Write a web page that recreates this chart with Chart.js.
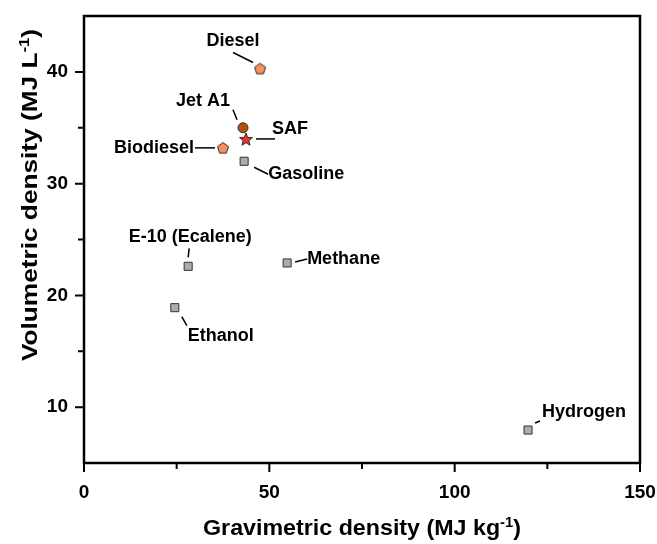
<!DOCTYPE html>
<html>
<head>
<meta charset="utf-8">
<script src="https://cdn.jsdelivr.net/npm/chart.js@4.4.1/dist/chart.umd.min.js"></script>
<style>
  html, body { margin: 0; padding: 0; background: #fff; }
  #wrap { width: 657px; height: 544px; }
</style>
</head>
<body>
<div id="wrap"><canvas id="chart" width="657" height="544"></canvas></div>
<script>
// data
const fuels = ['Diesel', 'Jet A1', 'SAF', 'Biodiesel', 'Gasoline', 'E-10 (Ecalene)', 'Methane', 'Ethanol', 'Hydrogen'];
const gravimetric = [47.5, 42.9, 43.7, 37.5, 43.2, 28.1, 54.8, 24.5, 119.8];
const volumetric = [40.3, 35.0, 34.0, 33.2, 32.0, 22.6, 22.9, 18.9, 7.95];
const markerKind = ['pentagon', 'circle', 'star', 'pentagon', 'square', 'square', 'square', 'square', 'square'];
const xTicks = [0, 50, 100, 150];
const yTicks = [10, 20, 30, 40];
const xMinor = [25, 75, 125];
const yMinor = [15, 25, 35];

// label placement: text offset, alignment, leader line (pixels relative to point)
const labelPos = [
  { tx: -27, ty: -27, align: 'center', l: [-27, -16, -7, -6] },
  { tx: -40, ty: -27, align: 'center', l: [-10, -18, -6, -8] },
  { tx: 44, ty: -10, align: 'center', l: [10, 0, 29, 0] },
  { tx: -29, ty: 0, align: 'right', l: [-28, 0, -8, 0] },
  { tx: 24, ty: 13, align: 'left', l: [10, 6, 24, 13] },
  { tx: 2, ty: -29, align: 'center', l: [1, -18, 0, -9] },
  { tx: 20, ty: -4, align: 'left', l: [8, -1, 20, -4] },
  { tx: 13, ty: 28, align: 'left', l: [7, 9, 12, 18] },
  { tx: 14, ty: -18, align: 'left', l: [7, -7, 12, -9] }
];

const FONT = '"Liberation Sans", Arial, sans-serif';
const markerColors = {
  pentagon: '#f5915c',
  circle: '#b4500e',
  star: '#e8313a',
  square: '#acacac'
};

function makeMarker(kind) {
  const size = 16;
  const c = document.createElement('canvas');
  c.width = size; c.height = size;
  const g = c.getContext('2d');
  const cx = size / 2, cy = size / 2;
  g.beginPath();
  if (kind === 'pentagon') {
    const r = 5.8;
    for (let k = 0; k < 5; k++) {
      const a = -Math.PI / 2 + k * 2 * Math.PI / 5;
      g.lineTo(cx + r * Math.cos(a), cy + 0.5 + r * Math.sin(a));
    }
  } else {
    const ro = 6.8, ri = 2.9;
    for (let k = 0; k < 10; k++) {
      const r = k % 2 ? ri : ro;
      const a = -Math.PI / 2 + k * Math.PI / 5;
      g.lineTo(cx + r * Math.cos(a), cy + 0.8 + r * Math.sin(a));
    }
  }
  g.closePath();
  g.fillStyle = markerColors[kind];
  g.fill();
  g.lineWidth = 1;
  g.strokeStyle = '#3a2a20';
  g.stroke();
  return c;
}

const pointStyles = markerKind.map(k => {
  if (k === 'square') return 'rect';
  if (k === 'circle') return 'circle';
  return makeMarker(k);
});

const pointLabels = {
  id: 'pointLabels',
  afterDatasetsDraw(chart) {
    const { ctx, scales: { x, y } } = chart;
    ctx.save();
    ctx.strokeStyle = '#000';
    ctx.lineWidth = 1.5;
    ctx.fillStyle = '#000';
    ctx.font = 'bold 18px ' + FONT;
    ctx.textBaseline = 'middle';
    fuels.forEach((name, i) => {
      const px = x.getPixelForValue(gravimetric[i]);
      const py = y.getPixelForValue(volumetric[i]);
      const p = labelPos[i];
      ctx.beginPath();
      ctx.moveTo(px + p.l[0], py + p.l[1]);
      ctx.lineTo(px + p.l[2], py + p.l[3]);
      ctx.stroke();
      ctx.textAlign = p.align;
      ctx.fillText(name, px + p.tx, py + p.ty);
    });
    ctx.restore();
  }
};

// axis title with a superscript, stretched to the given length
function drawTitle(ctx, parts, cx, cy, rot, len) {
  ctx.save();
  ctx.translate(cx, cy);
  ctx.rotate(rot);
  const big = 'bold 22px ' + FONT, small = 'bold 14px ' + FONT;
  let w = 0;
  parts.forEach(p => { ctx.font = p.sup ? small : big; w += ctx.measureText(p.t).width; });
  ctx.scale(len / w, 1);
  let xPos = -w / 2;
  ctx.textBaseline = 'alphabetic';
  ctx.textAlign = 'left';
  ctx.fillStyle = '#000';
  parts.forEach(p => {
    ctx.font = p.sup ? small : big;
    ctx.fillText(p.t, xPos, p.sup ? -8 : 0);
    xPos += ctx.measureText(p.t).width;
  });
  ctx.restore();
}

const frameAndTicks = {
  id: 'frameAndTicks',
  afterDraw(chart) {
    const { ctx, chartArea: a, scales: { x, y } } = chart;
    ctx.save();
    ctx.strokeStyle = '#000';
    ctx.lineWidth = 2;
    ctx.beginPath();
    xTicks.forEach(v => { const p = x.getPixelForValue(v); ctx.moveTo(p, a.bottom); ctx.lineTo(p, a.bottom + 9); });
    xMinor.forEach(v => { const p = x.getPixelForValue(v); ctx.moveTo(p, a.bottom); ctx.lineTo(p, a.bottom + 6); });
    yTicks.forEach(v => { const p = y.getPixelForValue(v); ctx.moveTo(a.left, p); ctx.lineTo(a.left - 9, p); });
    yMinor.forEach(v => { const p = y.getPixelForValue(v); ctx.moveTo(a.left, p); ctx.lineTo(a.left - 6, p); });
    ctx.stroke();
    ctx.lineWidth = 2.5;
    ctx.strokeRect(a.left, a.top, a.right - a.left, a.bottom - a.top);
    ctx.restore();

    drawTitle(ctx, [{ t: 'Gravimetric density (MJ kg' }, { t: '-1', sup: true }, { t: ')' }],
      (a.left + a.right) / 2, 535, 0, 318);
    drawTitle(ctx, [{ t: 'Volumetric density (MJ L' }, { t: '-1', sup: true }, { t: ')' }],
      37, 195, -Math.PI / 2, 332);
  }
};

const tickFont = { family: FONT, size: 19, weight: 'bold' };

new Chart(document.getElementById('chart'), {
  type: 'scatter',
  data: {
    datasets: [{
      label: 'Fuels',
      data: fuels.map((f, i) => ({ x: gravimetric[i], y: volumetric[i] })),
      pointStyle: pointStyles,
      pointRadius: markerKind.map(k => k === 'square' ? 5.7 : 5),
      pointBackgroundColor: markerKind.map(k => markerColors[k]),
      pointBorderColor: '#333',
      pointBorderWidth: 1
    }]
  },
  options: {
    responsive: false,
    animation: false,
    layout: { padding: { top: 16, right: 17, left: 0, bottom: 0 } },
    plugins: { legend: { display: false }, tooltip: { enabled: false } },
    scales: {
      x: {
        type: 'linear',
        min: 0,
        max: 150,
        afterBuildTicks: s => { s.ticks = xTicks.map(v => ({ value: v })); },
        afterFit: s => { s.height = 81; s.paddingLeft = 0; s.paddingRight = 0; },
        grid: { display: false },
        border: { display: false },
        ticks: { font: tickFont, color: '#000', padding: 10, maxRotation: 0 }
      },
      y: {
        min: 5,
        max: 45,
        afterBuildTicks: s => { s.ticks = yTicks.map(v => ({ value: v })); },
        afterFit: s => { s.width = 84; s.paddingTop = 0; s.paddingBottom = 0; },
        grid: { display: false },
        border: { display: false },
        ticks: { font: tickFont, color: '#000', padding: 8 }
      }
    }
  },
  plugins: [pointLabels, frameAndTicks]
});
</script>
</body>
</html>
